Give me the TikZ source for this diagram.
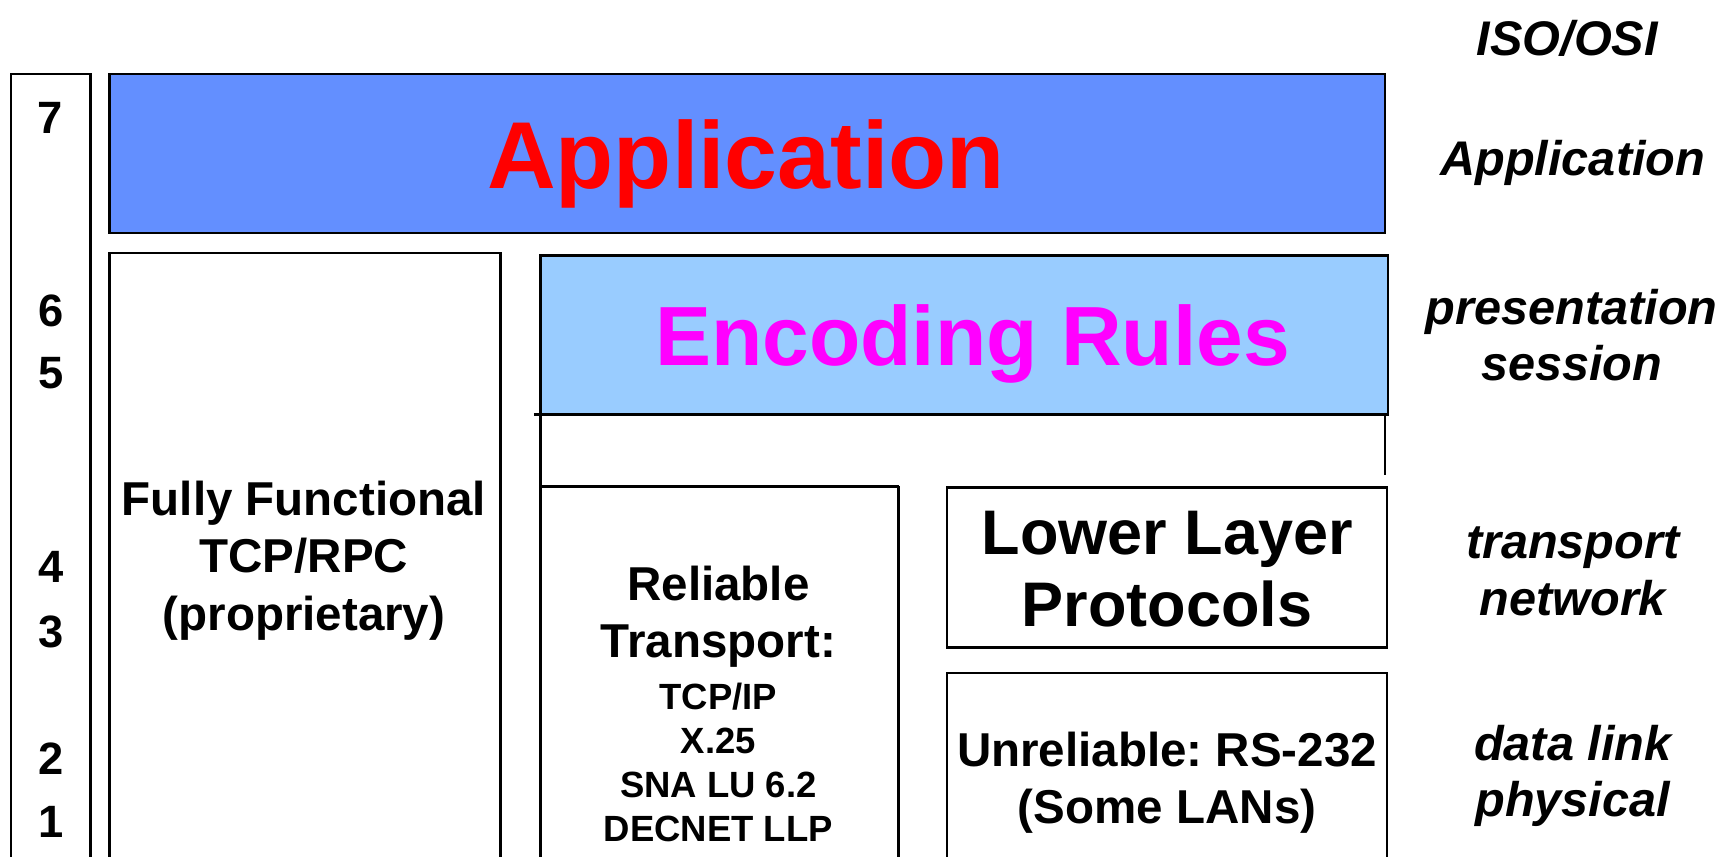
\documentclass[tikz,border=0pt]{standalone}
\usepackage{fontspec}
\setmainfont{Liberation Sans}
\usepackage{tikz}
\frenchspacing

\definecolor{appblue}{RGB}{99,143,255}
\definecolor{encblue}{RGB}{153,204,255}
\definecolor{encpink}{RGB}{255,0,255}
\definecolor{appred}{RGB}{255,0,0}

\tikzset{
    layer/.style={draw=black, line width=2.3pt},
    num/.style={font=\fontsize{41}{44}\selectfont\bfseries},
    osi/.style={font=\fontsize{44}{51}\selectfont\bfseries\itshape, align=center},
    lbl/.style={font=\fontsize{43}{52}\selectfont\bfseries, align=center},
    small/.style={font=\fontsize{33}{40}\selectfont\bfseries, align=center}
}

\begin{document}
\begin{tikzpicture}[x=1pt, y=-1pt]
        \clip (0, 0) rectangle (1568, 775);
        \fill[white] (0, 0) rectangle (1568, 775);
        % boxes
        \draw[layer] (10, 67) rectangle (82, 790);
        \filldraw[layer, fill=appblue] (99, 67) rectangle (1253, 211);
        \draw[layer] (99, 229) rectangle (453, 790);
        \filldraw[layer, fill=encblue] (489, 231) rectangle (1256, 375);
        \draw[layer] (483, 375) -- (1253, 375);
        \draw[layer] (1253, 375) -- (1253, 430);
        \draw[layer] (489, 375) -- (489, 790);
        \draw[layer] (489, 440) -- (813, 440);
        \draw[layer] (813, 440) -- (813, 790);
        \draw[layer] (857, 441) rectangle (1255, 586);
        \draw[layer] (857, 609) rectangle (1255, 790);
        % layer numbers
        \node[num] (n7) at (45, 107) {7};
        \node[num] (n6) at (46, 281) {6};
        \node[num] (n5) at (46, 338) {5};
        \node[num] (n4) at (46, 513) {4};
        \node[num] (n3) at (46, 572) {3};
        \node[num] (n2) at (46, 686) {2};
        \node[num] (n1) at (46, 744) {1};
        % box texts
        \node[font=\fontsize{86}{90}\selectfont\bfseries, text=appred, anchor=base] (app) at (675, 171) {Application};
        \node[font=\fontsize{76}{80}\selectfont\bfseries, text=encpink, anchor=base] (enc) at (880, 331) {Encoding Rules};
        \node[lbl] (rpc) at (275, 507) {Fully Functional\\TCP/RPC\\(proprietary)};
        \node[lbl] (rel) at (650, 558) {Reliable\\Transport:};
        \node[small] (relx) at (650, 690) {TCP/IP\\X.25\\SNA LU 6.2\\DECNET LLP};
        \node[lbl, font=\fontsize{57}{65}\selectfont\bfseries] (lower) at (1056, 515) {Lower Layer\\Protocols};
        \node[lbl] (unrel) at (1056, 708) {Unreliable: RS-232\\(Some LANs)};
        % ISO/OSI names
        \node[osi] (iso) at (1418, 35) {ISO/OSI};
        \node[osi] (o7) at (1423, 147) {Application};
        \node[osi] (o65) at (1422, 303) {presentation\\session};
        \node[osi] (o43) at (1423, 517) {transport\\network};
        \node[osi] (o21) at (1423, 702) {data link\\physical};
    \end{tikzpicture}
\end{document}
